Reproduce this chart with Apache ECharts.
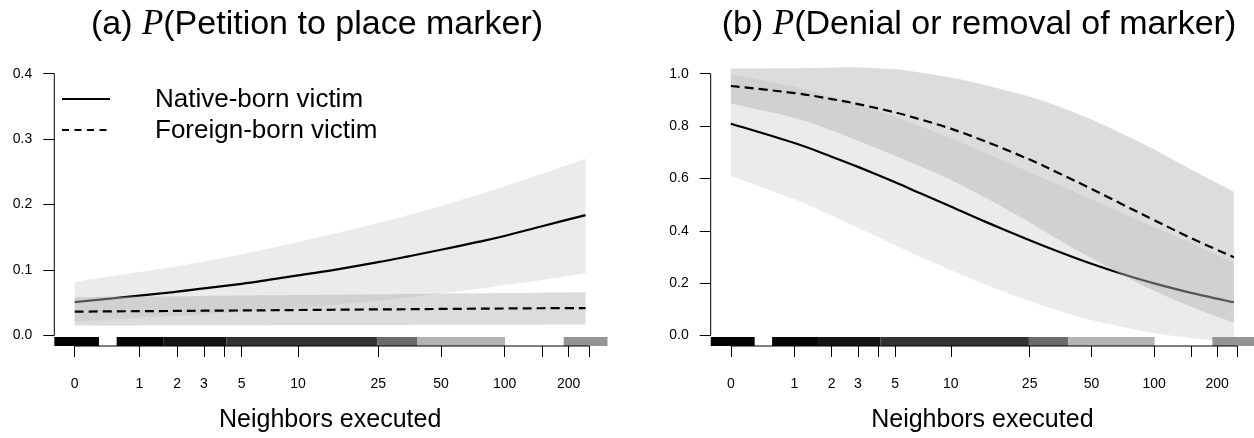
<!DOCTYPE html>
<html><head><meta charset="utf-8">
<script src="https://cdn.jsdelivr.net/npm/echarts@6/dist/echarts.min.js"></script>
<style>html,body{margin:0;padding:0;background:#fff}#c{width:1254px;height:438px}</style>
</head><body><div id="c"></div>
<script>
// ---- data ----
const neighbors = [0, 1, 2, 3, 5, 7, 10, 15, 25, 35, 50, 75, 100, 150, 240];

// (a) P(Petition to place marker)
const petNativeMean  = [0.051,0.061,0.067,0.072,0.079,0.085,0.092,0.100,0.112,0.121,0.131,0.143,0.152,0.167,0.184];
const petNativeUpper = [0.082,0.097,0.106,0.113,0.124,0.133,0.143,0.155,0.172,0.184,0.198,0.215,0.228,0.247,0.270];
const petNativeLower = [0.021,0.027,0.030,0.032,0.036,0.039,0.042,0.047,0.053,0.058,0.064,0.071,0.077,0.085,0.095];
const petForeignMean  = [0.0365,0.0372,0.0376,0.0379,0.0383,0.0386,0.0390,0.0394,0.0399,0.0402,0.0406,0.0410,0.0413,0.0417,0.0420];
const petForeignUpper = [0.0586,0.0595,0.0600,0.0604,0.0610,0.0614,0.0618,0.0623,0.0630,0.0635,0.0640,0.0645,0.0650,0.0655,0.0660];
const petForeignLower = [0.0153,0.0155,0.0156,0.0157,0.0158,0.0158,0.0159,0.0160,0.0161,0.0162,0.0163,0.0164,0.0165,0.0166,0.0167];

// (b) P(Denial or removal of marker)
const denNativeMean  = [0.809,0.735,0.683,0.644,0.585,0.541,0.493,0.435,0.364,0.319,0.274,0.228,0.199,0.163,0.127];
const denNativeUpper = [0.999,0.950,0.911,0.881,0.835,0.797,0.753,0.697,0.624,0.574,0.520,0.458,0.414,0.353,0.278];
const denNativeLower = [0.609,0.520,0.458,0.412,0.345,0.298,0.250,0.195,0.132,0.094,0.059,0.028,0.009,-0.009,-0.024];
const denForeignMean  = [0.953,0.926,0.903,0.884,0.852,0.824,0.790,0.742,0.672,0.619,0.560,0.490,0.441,0.372,0.299];
const denForeignUpper = [1.020,1.021,1.023,1.024,1.017,1.004,0.985,0.957,0.912,0.874,0.825,0.760,0.711,0.634,0.549];
const denForeignLower = [0.886,0.831,0.783,0.744,0.687,0.644,0.595,0.527,0.432,0.364,0.295,0.220,0.171,0.110,0.049];

// x axis ticks (neighbors executed) and y ticks
const xTickValues  = [0, 1, 2, 3, 4, 5, 10, 25, 50, 100, 150, 200, 250];
const xLabelValues = [0, 1, 2, 3, 5, 10, 25, 50, 100, 200];
const petYTicks = [0.0, 0.1, 0.2, 0.3, 0.4];
const denYTicks = [0.0, 0.2, 0.4, 0.6, 0.8, 1.0];

// rug of (jittered) observations, on the log(1+x) scale, with approximate density
const rugFrom    = [-0.219, 0.45, 0.95, 1.63, 3.25, 3.68, 5.25];
const rugTo      = [0.26, 0.95, 1.63, 3.25, 3.68, 4.62, 5.72];
const rugDensity = [1.0, 0.98, 0.92, 0.80, 0.58, 0.30, 0.42];

const titles = ['(a) {i|P}(Petition to place marker)', '(b) {i|P}(Denial or removal of marker)'];
const xName = 'Neighbors executed';
const legendNames = ['Native-born victim', 'Foreign-born victim'];

// ---- chart ----
const T = n => Math.log1p(n);
const X_MIN = -0.2194, X_MAX = 5.7042;
const FONT = 'Liberation Sans';
const panels = [
  {y: [-0.016, 0.416], ticks: petYTicks, nm: petNativeMean, nu: petNativeUpper, nl: petNativeLower,
   fm: petForeignMean, fu: petForeignUpper, fl: petForeignLower, left: 54.3, titleX: 317},
  {y: [-0.04, 1.04], ticks: denYTicks, nm: denNativeMean, nu: denNativeUpper, nl: denNativeLower,
   fm: denForeignMean, fu: denForeignUpper, fl: denForeignLower, left: 710.7, titleX: 979}
];
const PLOT_W = 551.7, PLOT_TOP = 63.2, PLOT_H = 292.9;

// Catmull-Rom -> cubic bezier path through screen points (rendering smoothing only)
function crPath(pts, start) {
  let d = (start ? 'M' : 'L') + pts[0][0] + ' ' + pts[0][1];
  for (let i = 0; i < pts.length - 1; i++) {
    const p0 = pts[i - 1] || pts[i], p1 = pts[i], p2 = pts[i + 1], p3 = pts[i + 2] || pts[i + 1];
    const c1 = [p1[0] + (p2[0] - p0[0]) / 6, p1[1] + (p2[1] - p0[1]) / 6];
    const c2 = [p2[0] - (p3[0] - p1[0]) / 6, p2[1] - (p3[1] - p1[1]) / 6];
    d += ' C' + c1[0] + ' ' + c1[1] + ' ' + c2[0] + ' ' + c2[1] + ' ' + p2[0] + ' ' + p2[1];
  }
  return d;
}

const grid = [], xAxis = [], yAxis = [], series = [], graphic = [];
panels.forEach((p, i) => {
  grid.push({left: p.left, top: PLOT_TOP, width: PLOT_W, height: PLOT_H, containLabel: false});
  xAxis.push({
    type: 'value', gridIndex: i, min: X_MIN, max: X_MAX,
    axisLine: {show: false, onZero: false}, splitLine: {show: false},
    axisTick: {show: true, inside: false, length: 11, customValues: xTickValues.map(T), lineStyle: {color: '#000', width: 1}},
    axisLabel: {show: true, customValues: xLabelValues.map(T), formatter: v => String(Math.round(Math.expm1(v))),
      margin: 31, fontSize: 14, color: '#000', fontFamily: FONT},
    name: xName, nameLocation: 'middle', nameGap: 62,
    nameTextStyle: {fontSize: 25, color: '#000', fontFamily: FONT}
  });
  yAxis.push({
    type: 'value', gridIndex: i, min: p.y[0], max: p.y[1],
    axisLine: {show: false, onZero: false}, splitLine: {show: false},
    axisTick: {show: true, inside: false, length: 11, customValues: p.ticks, lineStyle: {color: '#000', width: 1}},
    axisLabel: {show: true, customValues: p.ticks, formatter: v => v.toFixed(1), margin: 22, fontSize: 14, color: '#000', fontFamily: FONT}
  });
  const ax = {xAxisIndex: i, yAxisIndex: i};
  const band = (lo, up, mean, color, z) => Object.assign({
    type: 'custom', silent: true, z: z, animation: false,
    data: neighbors.map((n, k) => [T(n), lo[k], up[k], mean[k]]),
    dimensions: ['t', 'lo', 'up', 'mean'], encode: {x: 0, y: [1, 2]},
    renderItem: (params, api) => {
      if (params.dataIndex !== 0) return null;
      const upPts = neighbors.map((n, k) => api.coord([T(n), up[k]]));
      const loPts = neighbors.map((n, k) => api.coord([T(n), lo[k]])).reverse();
      return {type: 'path', shape: {pathData: crPath(upPts, true) + ' ' + crPath(loPts, false) + ' Z'},
        style: {fill: color, stroke: null}};
    }}, ax);
  const meanLine = (mean, dash, z) => Object.assign({
    type: 'custom', silent: true, z: z, animation: false,
    data: neighbors.map((n, k) => [T(n), mean[k]]), encode: {x: 0, y: 1},
    renderItem: (params, api) => {
      if (params.dataIndex !== 0) return null;
      const pts = neighbors.map((n, k) => api.coord([T(n), mean[k]]));
      return {type: 'path', shape: {pathData: crPath(pts, true)},
        style: {fill: null, stroke: '#000', lineWidth: 2.2, lineDash: dash}};
    }}, ax);
  series.push(band(p.nl, p.nu, p.nm, '#ebebeb', 2));
  series.push(Object.assign(meanLine(p.nm, null, 3), {name: legendNames[0]}));
  series.push(band(p.fl, p.fu, p.fm, 'rgba(181,181,181,0.47)', 4));
  series.push(Object.assign(meanLine(p.fm, [9, 5], 5), {name: legendNames[1]}));
  // rug
  series.push(Object.assign({type: 'custom', name: 'rug' + i, silent: true, z: 6, animation: false,
    data: rugFrom.map((f, k) => [f, rugTo[k], rugDensity[k]]),
    dimensions: ['from', 'to', 'density'], encode: {x: [0, 1]},
    renderItem: (params, api) => {
      const a = api.coord([api.value(0), p.y[0]]);
      const b = api.coord([api.value(1), p.y[0]]);
      const g = Math.round(255 * (1 - api.value(2)));
      return {type: 'rect', shape: {x: a[0], y: a[1] - 9, width: b[0] - a[0], height: 9},
        style: {fill: `rgb(${g},${g},${g})`}};
    }}, ax));
  // R-style axis lines spanning first to last tick
  series.push(Object.assign({type: 'line', name: 'xaxisline' + i,
    data: [[T(xTickValues[0]), p.y[0]], [T(xTickValues[xTickValues.length - 1]), p.y[0]]],
    symbol: 'none', clip: false, silent: true, z: 7, lineStyle: {color: '#000', width: 1}, animation: false}, ax));
  series.push(Object.assign({type: 'line', name: 'yaxisline' + i,
    data: [[X_MIN, p.ticks[0]], [X_MIN, p.ticks[p.ticks.length - 1]]],
    symbol: 'none', clip: false, silent: true, z: 7, lineStyle: {color: '#000', width: 1}, animation: false}, ax));
  graphic.push({type: 'text', x: p.titleX, y: 25, silent: true,
    style: {text: titles[i], align: 'center', verticalAlign: 'middle', fill: '#000',
      font: `34px "${FONT}"`,
      rich: {i: {fontFamily: 'Liberation Serif', fontStyle: 'italic', fontSize: 35, fill: '#000'}}}});
});

// legend (line keys + real text)
const legendDash = [null, [7, 5.5]];
legendNames.forEach((name, k) => {
  const y = 99 + k * 31;
  graphic.push({type: 'line', silent: true, shape: {x1: 62, y1: y, x2: 110, y2: y},
    style: {stroke: '#000', lineWidth: 2, lineDash: legendDash[k]}});
  graphic.push({type: 'text', silent: true, x: 155, y: y + 1,
    style: {text: name, fill: '#000', font: `26px "${FONT}"`, verticalAlign: 'middle', align: 'left'}});
});

const chart = echarts.init(document.getElementById('c'), null, {renderer: 'canvas'});
chart.setOption({animation: false, grid, xAxis, yAxis, series, graphic});
</script></body></html>
